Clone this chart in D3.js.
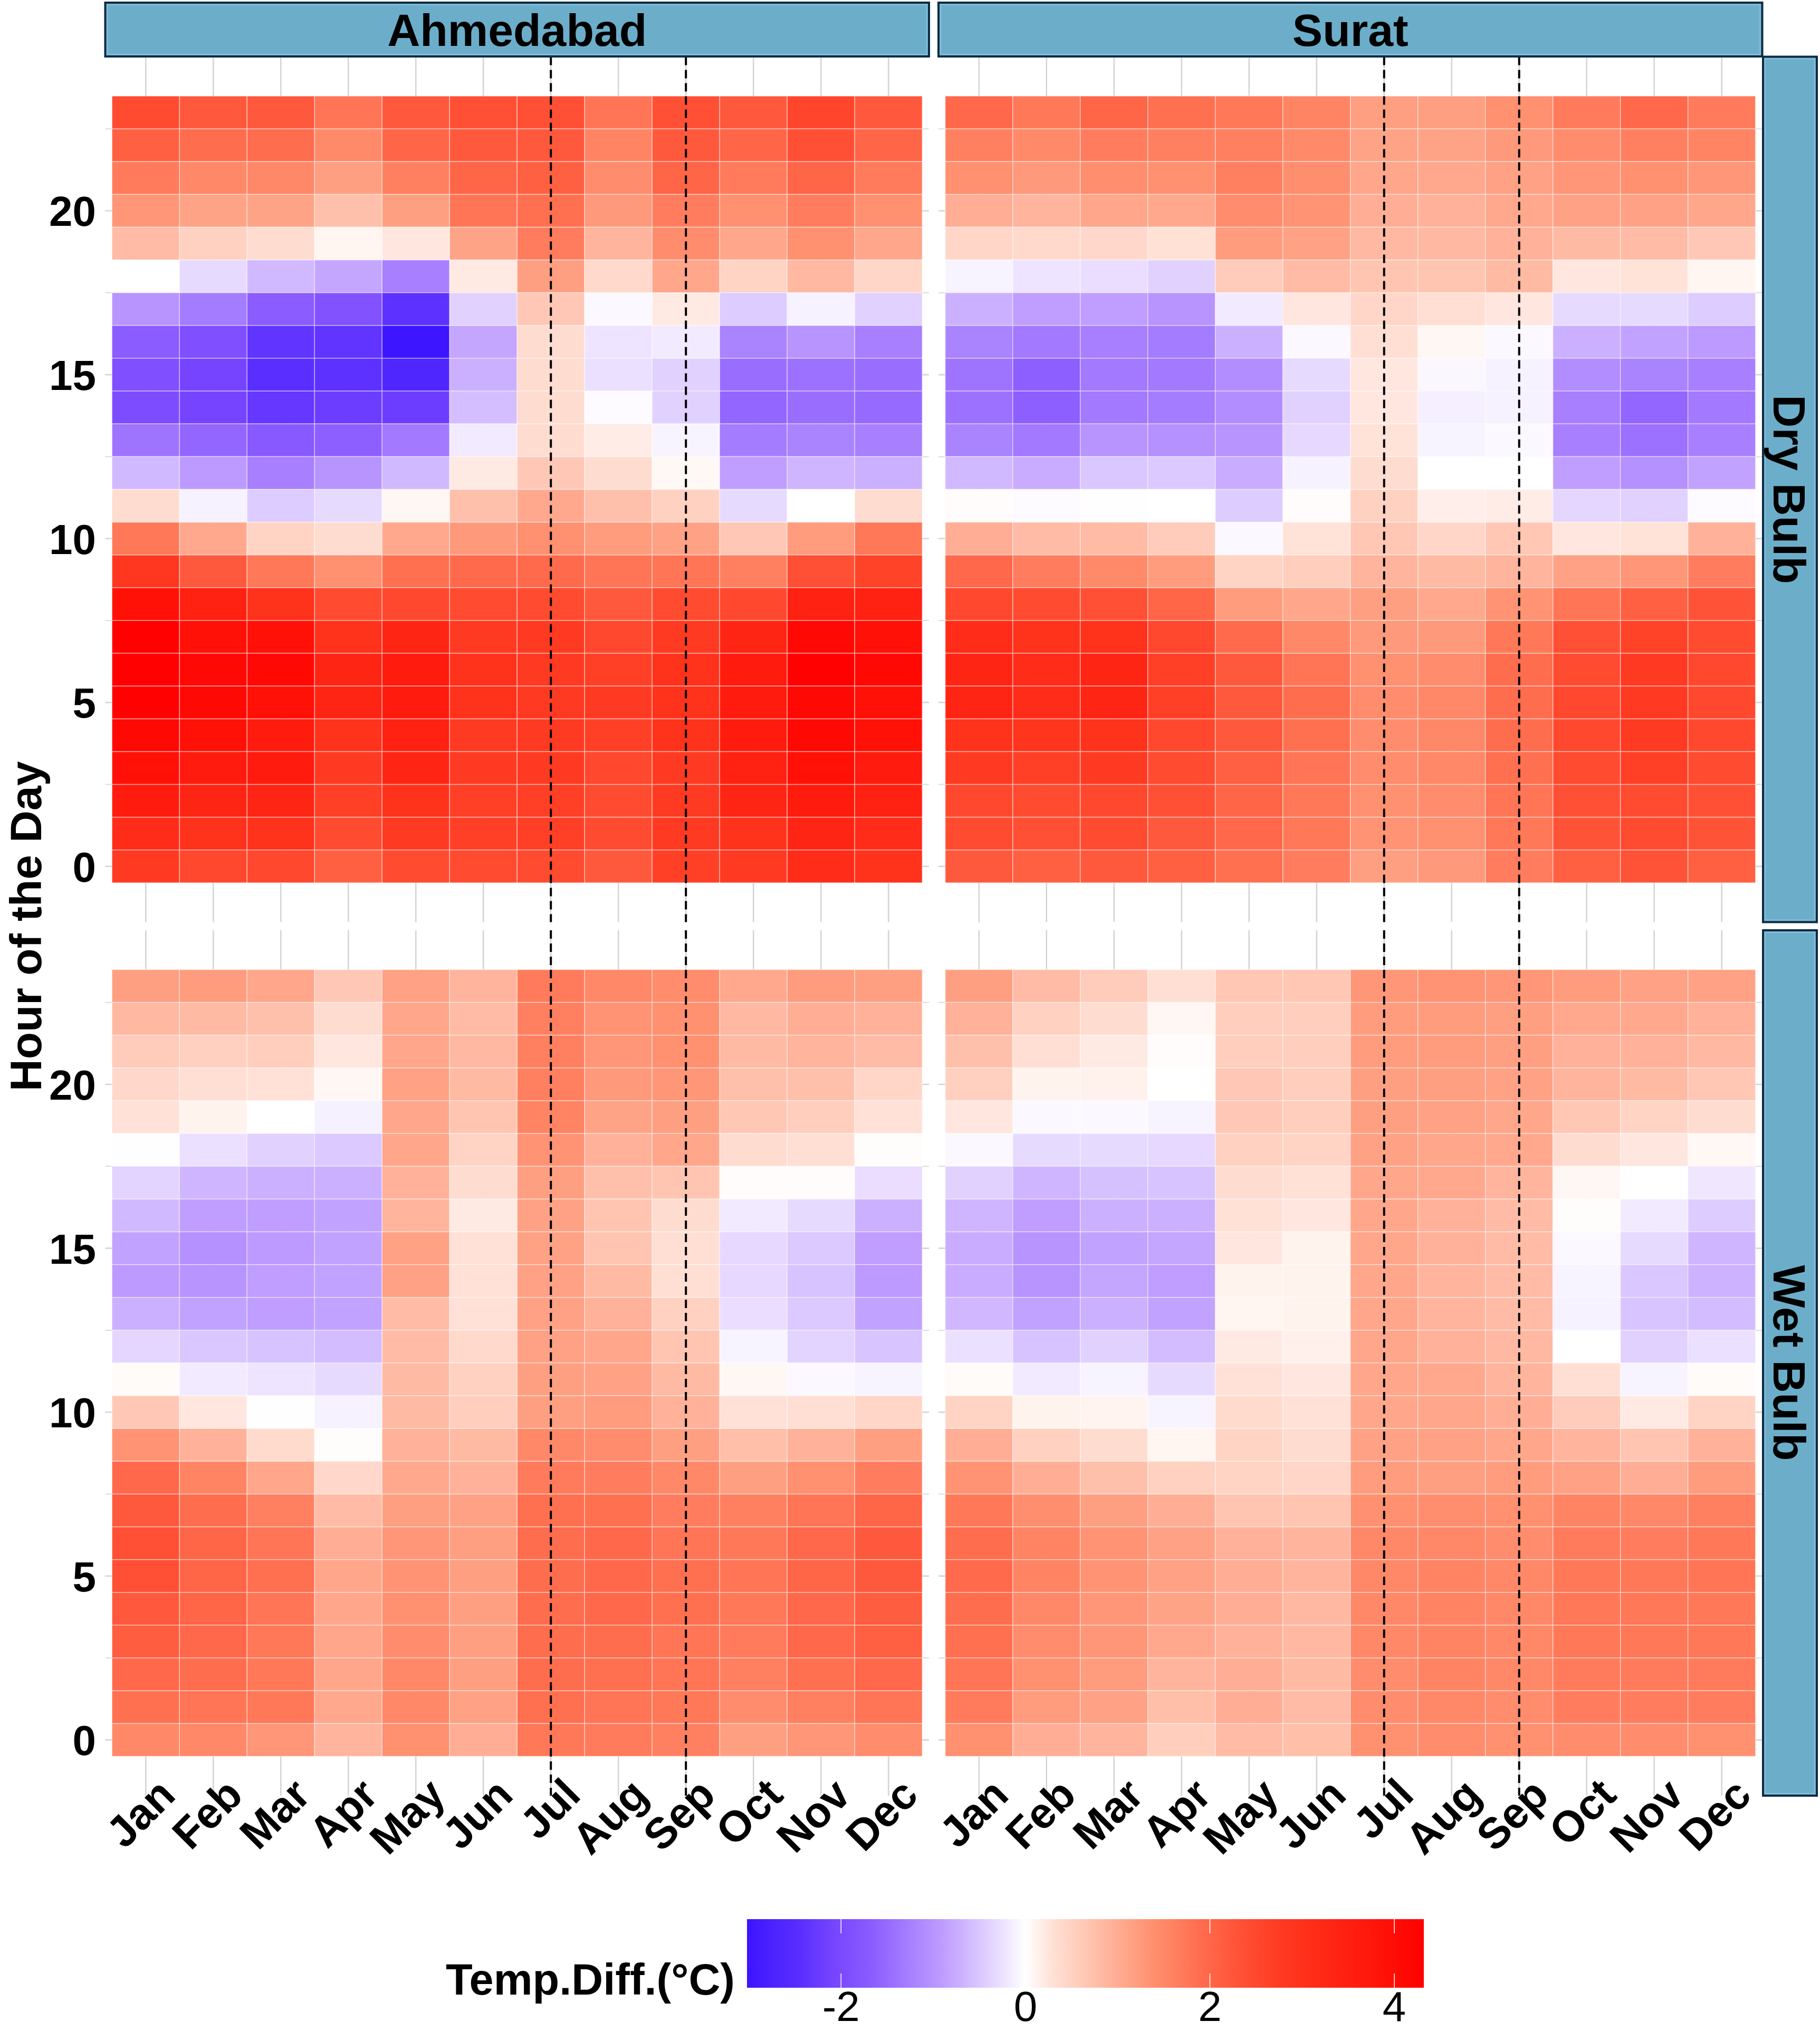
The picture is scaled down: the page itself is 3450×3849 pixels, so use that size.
<!DOCTYPE html>
<html><head><meta charset="utf-8">
<script src="https://cdn.jsdelivr.net/npm/d3@7"></script>
<style>body{margin:0;background:#fff}svg{display:block}</style>
</head><body>
<svg id="chart" width="3450" height="3849"></svg>
<script>
// ---------------- DATA ----------------
const months = ["Jan","Feb","Mar","Apr","May","Jun","Jul","Aug","Sep","Oct","Nov","Dec"];
// rows below are listed from hour 23 (top) down to hour 0 (bottom)
const hoursTopDown = [23,22,21,20,19,18,17,16,15,14,13,12,11,10,9,8,7,6,5,4,3,2,1,0];
const cities = ["Ahmedabad","Surat"];
const variables = ["Dry Bulb","Wet Bulb"];

const ahmedabadDry = [
[2.45,2.2,2.2,1.78,2.2,2.34,2.34,1.78,2.34,2.2,2.55,2.2],
[2.1,1.89,1.89,1.47,2.02,2.2,2.2,1.56,2.2,2.02,2.34,2.02],
[1.7,1.5,1.5,1.18,1.62,2.02,2.1,1.44,2.02,1.7,2.02,1.7],
[1.3,1.12,1.12,0.74,1.18,1.78,1.85,1.26,1.66,1.38,1.66,1.38],
[0.8,0.51,0.36,0.1,0.24,1.12,1.66,0.89,1.44,1.08,1.38,1.08],
[0.0,-0.32,-0.62,-0.8,-1.25,0.2,1.18,0.4,1.08,0.47,0.85,0.44],
[-1.0,-1.29,-1.67,-1.84,-2.4,-0.4,0.63,-0.05,0.2,-0.45,-0.11,-0.4],
[-1.67,-1.9,-2.35,-2.35,-3.0,-0.8,0.36,-0.23,-0.17,-1.2,-1.0,-1.25],
[-1.9,-2.08,-2.45,-2.4,-2.65,-0.71,0.36,-0.27,-0.4,-1.46,-1.42,-1.46],
[-1.96,-2.08,-2.3,-2.2,-2.2,-0.58,0.36,-0.03,-0.4,-1.55,-1.46,-1.5],
[-1.38,-1.55,-1.73,-1.63,-1.33,-0.18,0.36,0.18,-0.09,-1.29,-1.2,-1.25],
[-0.62,-0.92,-1.25,-1.0,-0.62,0.2,0.63,0.36,0.07,-0.88,-0.66,-0.71],
[0.36,-0.11,-0.45,-0.32,0.08,0.74,1.05,0.74,0.51,-0.32,0.0,0.36],
[1.74,1.05,0.47,0.36,1.05,1.26,1.38,1.22,1.15,0.63,1.22,1.74],
[2.83,2.2,1.74,1.38,1.85,1.93,1.93,1.78,1.78,1.62,2.34,2.6],
[3.9,3.47,2.99,2.45,2.5,2.45,2.45,2.2,2.45,2.5,3.47,3.47],
[4.3,3.9,3.9,2.99,3.3,2.75,2.75,2.5,2.75,3.3,4.1,3.9],
[4.3,4.1,4.1,3.3,3.64,2.99,2.75,2.65,2.99,3.64,4.3,4.1],
[4.3,4.1,3.9,3.3,3.64,2.99,2.75,2.75,2.99,3.64,4.1,3.9],
[4.1,3.9,3.64,2.99,3.47,2.75,2.75,2.65,2.99,3.64,4.1,3.9],
[3.9,3.64,3.64,2.75,3.3,2.75,2.75,2.5,2.75,3.47,3.9,3.64],
[3.64,3.3,3.3,2.65,2.99,2.65,2.65,2.45,2.75,3.3,3.64,3.47],
[3.14,2.99,2.99,2.45,2.75,2.65,2.65,2.45,2.75,2.99,3.3,3.14],
[2.75,2.5,2.5,2.1,2.45,2.45,2.45,2.2,2.65,2.75,3.14,2.99]
];

const suratDry = [
[1.97,1.74,2.02,1.85,1.74,1.56,1.18,1.18,1.38,1.7,1.97,1.7],
[1.62,1.47,1.66,1.62,1.62,1.47,1.12,1.12,1.26,1.44,1.62,1.56],
[1.38,1.26,1.41,1.38,1.62,1.41,1.08,1.05,1.15,1.3,1.38,1.3],
[0.97,0.89,1.08,1.05,1.44,1.34,0.97,0.93,1.05,1.15,1.15,1.08],
[0.44,0.4,0.41,0.3,1.22,1.15,0.85,0.85,0.93,0.82,0.8,0.63],
[-0.09,-0.23,-0.29,-0.4,0.59,0.8,0.68,0.68,0.82,0.24,0.28,0.1],
[-0.71,-0.88,-0.88,-1.0,-0.18,0.24,0.44,0.33,0.24,-0.32,-0.32,-0.45],
[-1.2,-1.33,-1.25,-1.29,-0.71,-0.06,0.33,0.08,-0.05,-0.71,-0.84,-0.92],
[-1.38,-1.63,-1.33,-1.33,-1.08,-0.32,0.23,-0.07,-0.11,-1.08,-1.2,-1.25],
[-1.42,-1.63,-1.33,-1.29,-1.08,-0.4,0.23,-0.14,-0.11,-1.25,-1.55,-1.33],
[-1.2,-1.33,-1.0,-1.04,-1.0,-0.34,0.28,-0.09,-0.06,-1.25,-1.42,-1.25],
[-0.62,-0.75,-0.49,-0.47,-0.75,-0.11,0.36,0.0,0.0,-0.88,-1.04,-0.84],
[0.03,-0.03,0.01,0.0,-0.45,0.03,0.51,0.16,0.18,-0.36,-0.4,-0.03],
[0.97,0.8,0.8,0.59,-0.05,0.28,0.65,0.44,0.65,0.24,0.28,0.93],
[1.97,1.66,1.47,1.22,0.47,0.56,0.89,0.82,0.89,1.15,1.3,1.66],
[2.5,2.45,2.34,2.02,1.22,1.08,1.18,1.05,1.34,1.78,2.1,2.29],
[3.14,2.99,2.99,2.5,1.93,1.5,1.26,1.26,1.74,2.34,2.6,2.45],
[3.3,3.14,3.3,2.65,2.2,1.78,1.38,1.44,1.89,2.45,2.75,2.5],
[3.3,3.14,3.3,2.65,2.2,1.89,1.44,1.5,1.89,2.5,2.75,2.5],
[2.99,2.91,2.99,2.5,2.2,1.85,1.44,1.5,1.89,2.5,2.75,2.5],
[2.75,2.65,2.75,2.45,2.1,1.78,1.44,1.5,1.85,2.45,2.65,2.45],
[2.5,2.45,2.5,2.34,2.02,1.74,1.38,1.44,1.78,2.34,2.45,2.34],
[2.45,2.34,2.45,2.2,1.97,1.74,1.34,1.38,1.74,2.29,2.45,2.29],
[2.2,2.1,2.2,2.1,1.85,1.66,1.18,1.26,1.66,2.1,2.29,2.1]
];

const ahmedabadWet = [
[1.18,1.22,1.08,0.63,1.15,0.89,1.7,1.5,1.44,1.05,1.22,1.18],
[0.85,0.82,0.74,0.36,1.08,0.8,1.62,1.34,1.38,0.85,0.97,0.93],
[0.59,0.53,0.56,0.24,1.08,0.85,1.62,1.3,1.38,0.82,0.89,0.8],
[0.41,0.32,0.29,0.08,1.15,0.82,1.62,1.26,1.3,0.74,0.74,0.44],
[0.29,0.12,0.0,-0.12,1.08,0.68,1.56,1.12,1.18,0.65,0.56,0.29],
[-0.02,-0.27,-0.4,-0.47,1.08,0.47,1.34,0.93,1.08,0.36,0.32,0.02],
[-0.38,-0.66,-0.71,-0.71,0.93,0.36,1.18,0.74,0.68,0.03,0.03,-0.29],
[-0.62,-0.88,-0.88,-0.84,0.89,0.2,1.15,0.68,0.36,-0.18,-0.32,-0.71],
[-0.84,-1.04,-0.92,-0.84,1.15,0.29,1.15,0.68,0.32,-0.34,-0.47,-0.88],
[-0.92,-1.0,-0.88,-0.84,1.15,0.29,1.15,0.82,0.32,-0.34,-0.53,-0.92],
[-0.71,-0.84,-0.88,-0.84,0.8,0.29,1.15,0.93,0.51,-0.29,-0.47,-0.84],
[-0.36,-0.49,-0.53,-0.6,0.8,0.4,1.15,1.08,0.68,-0.09,-0.38,-0.52],
[0.04,-0.18,-0.23,-0.32,0.82,0.51,1.18,1.15,0.82,0.08,-0.06,-0.09],
[0.63,0.24,-0.01,-0.11,0.82,0.56,1.18,1.22,0.93,0.29,0.32,0.44],
[1.34,0.93,0.38,0.02,0.93,0.82,1.5,1.44,1.18,0.76,0.93,1.18],
[1.97,1.56,1.08,0.41,1.05,0.93,1.7,1.66,1.5,1.18,1.38,1.66],
[2.2,1.89,1.62,0.8,1.18,1.15,1.85,1.85,1.66,1.62,1.78,2.02],
[2.34,2.02,1.78,0.97,1.3,1.18,1.89,1.97,1.78,1.74,1.97,2.2],
[2.34,2.02,1.85,1.08,1.34,1.18,1.89,1.97,1.85,1.78,2.02,2.2],
[2.2,2.02,1.78,1.08,1.38,1.18,1.89,1.97,1.85,1.74,1.97,2.15],
[2.15,1.97,1.74,1.08,1.44,1.18,1.89,1.89,1.78,1.7,1.97,2.1],
[1.97,1.89,1.74,1.08,1.5,1.18,1.89,1.85,1.78,1.62,1.85,1.97],
[1.85,1.78,1.74,1.05,1.5,1.15,1.85,1.78,1.74,1.44,1.62,1.78],
[1.5,1.5,1.3,0.89,1.38,0.97,1.74,1.7,1.62,1.18,1.3,1.44]
];

const suratWet = [
[1.18,0.8,0.59,0.32,0.65,0.65,1.3,1.34,1.3,1.22,1.15,1.15],
[0.93,0.51,0.36,0.08,0.56,0.56,1.22,1.22,1.18,1.05,1.05,0.93],
[0.74,0.32,0.2,0.03,0.56,0.56,1.22,1.22,1.18,0.93,0.93,0.85],
[0.53,0.12,0.13,0.0,0.63,0.56,1.18,1.18,1.15,0.89,0.82,0.65],
[0.24,-0.05,-0.05,-0.09,0.63,0.56,1.18,1.15,1.08,0.65,0.47,0.36],
[-0.05,-0.32,-0.32,-0.34,0.51,0.47,1.15,1.08,1.05,0.36,0.24,0.07],
[-0.4,-0.66,-0.55,-0.53,0.36,0.3,1.08,1.05,0.89,0.08,0.0,-0.2],
[-0.66,-0.88,-0.71,-0.71,0.3,0.23,1.08,0.93,0.8,0.02,-0.18,-0.45],
[-0.75,-1.0,-0.84,-0.81,0.24,0.12,1.08,0.93,0.8,-0.05,-0.32,-0.66],
[-0.75,-1.0,-0.81,-0.88,0.12,0.12,1.08,0.89,0.8,-0.09,-0.49,-0.69],
[-0.64,-0.84,-0.71,-0.84,0.1,0.12,1.08,0.89,0.8,-0.11,-0.52,-0.6],
[-0.27,-0.53,-0.4,-0.6,0.2,0.14,1.08,0.93,0.85,0.0,-0.4,-0.27],
[0.04,-0.18,-0.09,-0.32,0.29,0.23,1.08,1.05,0.89,0.32,-0.09,0.04],
[0.47,0.12,0.11,-0.09,0.38,0.29,1.08,1.08,0.97,0.59,0.2,0.47],
[0.97,0.51,0.36,0.1,0.47,0.36,1.15,1.15,1.08,0.89,0.68,0.93],
[1.34,0.97,0.74,0.51,0.47,0.44,1.22,1.18,1.22,1.15,0.97,1.22],
[1.74,1.41,1.18,0.97,0.68,0.68,1.38,1.41,1.38,1.56,1.5,1.62],
[1.89,1.56,1.34,1.15,0.93,0.89,1.5,1.5,1.44,1.7,1.66,1.74],
[1.93,1.56,1.34,1.15,0.97,0.89,1.5,1.56,1.5,1.74,1.74,1.78],
[1.89,1.5,1.3,1.12,0.97,0.85,1.5,1.56,1.5,1.74,1.74,1.74],
[1.85,1.44,1.3,1.05,0.93,0.85,1.5,1.56,1.5,1.74,1.74,1.74],
[1.78,1.38,1.22,0.89,0.97,0.82,1.44,1.56,1.5,1.7,1.7,1.7],
[1.7,1.22,1.15,0.76,0.97,0.8,1.44,1.5,1.44,1.66,1.66,1.66],
[1.38,0.97,0.89,0.56,0.8,0.76,1.38,1.44,1.38,1.44,1.44,1.38]
];

const yTickValues = [0,5,10,15,20];
const yMinorValues = [2.5,7.5,12.5,17.5,22.5];
const legendTickValues = [-2,0,2,4];
const dashedMonths = ["Jul","Sep"];
const colorDomain = [-3.02,-2.44,-2.02,-1.67,-1.29,-0.9,-0.52,-0.23,0,0.28,0.69,0.96,1.38,1.93,2.34,2.75,3.31,3.86,4.32];
const colorRange = ["#3c14ff","#5a2eff","#7a48ff","#8b5cff","#a47cff","#be9cff","#d8c4ff","#eee4ff","#ffffff","#ffe2d8","#ffc4b0","#ffaf96","#ff9070","#ff6a4c","#ff5035","#ff3a22","#ff2514","#ff1208","#ff0000"];

// ---------------- LAYOUT ----------------
const svg = d3.select("#chart");
const FONT = "'Liberation Sans', Arial, Helvetica, sans-serif";
const panelX = [199.5, 1779];
const panelY = [107.5, 1763];
const panelW = 1561.5, panelH = 1640;
const color = d3.scaleLinear().domain(colorDomain).range(colorRange).interpolate(d3.interpolateLab).clamp(true);

const panels = [
  {city:0, v:0, data:ahmedabadDry},
  {city:1, v:0, data:suratDry},
  {city:0, v:1, data:ahmedabadWet},
  {city:1, v:1, data:suratWet}
];

svg.append("rect").attr("width",3450).attr("height",3849).attr("fill","#fff");

panels.forEach(p => {
  const px = panelX[p.city], py = panelY[p.v];
  const unitX = panelW / 12.2;
  const x = d3.scaleBand().domain(months).range([px + 0.1*unitX, px + 12.1*unitX]).padding(0);
  const y = d3.scaleLinear().domain([-1.7, 24.7]).range([py + panelH, py]);
  const g = svg.append("g");
  // grid
  g.selectAll(".gmaj").data(yTickValues).enter().append("line")
    .attr("x1", px).attr("x2", px + panelW).attr("y1", d => y(d)).attr("y2", d => y(d))
    .attr("stroke", "#d4d4d4").attr("stroke-width", 2.6);
  g.selectAll(".gmin").data(yMinorValues).enter().append("line")
    .attr("x1", px).attr("x2", px + panelW).attr("y1", d => y(d)).attr("y2", d => y(d))
    .attr("stroke", "#dcdcdc").attr("stroke-width", 2);
  g.selectAll(".gx").data(months).enter().append("line")
    .attr("x1", d => x(d) + x.bandwidth()/2).attr("x2", d => x(d) + x.bandwidth()/2)
    .attr("y1", py).attr("y2", py + panelH)
    .attr("stroke", "#d4d4d4").attr("stroke-width", 2.6);
  // tiles
  const cells = [];
  p.data.forEach((row, ri) => row.forEach((val, ci) => cells.push({h: hoursTopDown[ri], m: months[ci], val})));
  g.selectAll(".tile").data(cells).enter().append("rect")
    .attr("x", d => x(d.m)).attr("width", x.bandwidth())
    .attr("y", d => y(d.h + 0.5)).attr("height", d => y(d.h - 0.5) - y(d.h + 0.5))
    .attr("fill", d => color(d.val))
    .attr("stroke", "rgba(255,255,255,0.45)").attr("stroke-width", 1.6);
  // dashed lines
  g.selectAll(".dash").data(dashedMonths).enter().append("line")
    .attr("x1", d => x(d) + x.bandwidth()/2).attr("x2", d => x(d) + x.bandwidth()/2)
    .attr("y1", py).attr("y2", py + panelH)
    .attr("stroke", "#000").attr("stroke-width", 4).attr("stroke-dasharray", "16,9");
  // y axis labels on left column
  if (p.city === 0) {
    g.selectAll(".yl").data(yTickValues).enter().append("text")
      .attr("x", 182).attr("y", d => y(d) + 29)
      .attr("text-anchor", "end").attr("font-family", FONT).attr("font-weight", "bold")
      .attr("font-size", 80).attr("fill", "#000").text(d => d);
  }
  // x axis labels on bottom row
  if (p.v === 1) {
    g.selectAll(".xl").data(months).enter().append("text")
      .attr("transform", d => `translate(${x(d) + x.bandwidth()/2 + 60},${3406}) rotate(-45)`)
      .attr("text-anchor", "end").attr("font-family", FONT).attr("font-weight", "bold")
      .attr("font-size", 82).attr("fill", "#000").text(d => d);
  }
});

// top strips
cities.forEach((c, i) => {
  const sx = panelX[i];
  svg.append("rect").attr("x", sx).attr("y", 5).attr("width", panelW).attr("height", 102)
    .attr("fill", "#6caeca").attr("stroke", "#0d2b45").attr("stroke-width", 4);
  svg.append("rect").attr("x", sx + 4).attr("y", 9).attr("width", panelW - 8).attr("height", 94)
    .attr("fill", "none").attr("stroke", "#8fc4da").attr("stroke-width", 1.5);
  svg.append("text").attr("x", sx + panelW/2).attr("y", 87)
    .attr("text-anchor", "middle").attr("font-family", FONT).attr("font-weight", "bold")
    .attr("font-size", 86).attr("fill", "#000").text(c);
});
// right strips
variables.forEach((v, i) => {
  const sy = panelY[i];
  svg.append("rect").attr("x", 3342).attr("y", sy).attr("width", 102).attr("height", panelH)
    .attr("fill", "#6caeca").attr("stroke", "#0d2b45").attr("stroke-width", 4);
  svg.append("rect").attr("x", 3346).attr("y", sy + 4).attr("width", 94).attr("height", panelH - 8)
    .attr("fill", "none").attr("stroke", "#8fc4da").attr("stroke-width", 1.5);
  svg.append("text").attr("transform", `translate(${3362},${sy + panelH/2}) rotate(90)`)
    .attr("text-anchor", "middle").attr("font-family", FONT).attr("font-weight", "bold")
    .attr("font-size", 86).attr("fill", "#000").text(v);
});

// y axis title
svg.append("text").attr("transform", `translate(78,${(panelY[0] + panelY[1] + panelH)/2}) rotate(-90)`)
  .attr("text-anchor", "middle").attr("font-family", FONT).attr("font-weight", "bold")
  .attr("font-size", 84).attr("fill", "#000").text("Hour of the Day");

// legend
const lx0 = 1416, lx1 = 2699, ly0 = 3637, ly1 = 3767;
const lscale = d3.scaleLinear().domain([colorDomain[0], colorDomain[colorDomain.length-1]]).range([lx0, lx1]);
const defs = svg.append("defs");
const grad = defs.append("linearGradient").attr("id", "lg").attr("x1", "0%").attr("x2", "100%").attr("y1", "0%").attr("y2", "0%");
d3.range(0, 1.0001, 0.01).forEach(t => {
  const v = colorDomain[0] + t * (colorDomain[colorDomain.length-1] - colorDomain[0]);
  grad.append("stop").attr("offset", (t*100) + "%").attr("stop-color", color(v));
});
svg.append("rect").attr("x", lx0).attr("y", ly0).attr("width", lx1 - lx0).attr("height", ly1 - ly0).attr("fill", "url(#lg)");
legendTickValues.forEach(t => {
  svg.append("line").attr("x1", lscale(t)).attr("x2", lscale(t)).attr("y1", ly0).attr("y2", ly0 + 27).attr("stroke", "#fff").attr("stroke-width", 1.5);
  svg.append("line").attr("x1", lscale(t)).attr("x2", lscale(t)).attr("y1", ly1 - 27).attr("y2", ly1).attr("stroke", "#fff").attr("stroke-width", 1.5);
});
svg.selectAll(".lt").data(legendTickValues).enter().append("text")
  .attr("x", d => lscale(d)).attr("y", 3830).attr("text-anchor", "middle")
  .attr("font-family", FONT).attr("font-size", 80).attr("fill", "#000")
  .text(d => d < 0 ? "-" + Math.abs(d) : d);
svg.append("text").attr("x", 1393).attr("y", 3780).attr("text-anchor", "end")
  .attr("font-family", FONT).attr("font-weight", "bold").attr("font-size", 83).attr("fill", "#000")
  .text("Temp.Diff.(°C)");
</script>
</body></html>
